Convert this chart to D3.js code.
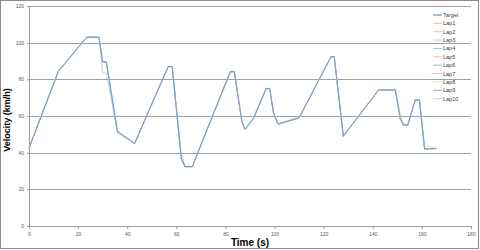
<!DOCTYPE html>
<html>
<head>
<meta charset="UTF-8">
<title>Velocity vs time</title>
<script src="https://d3js.org/d3.v7.min.js"></script>
<style>
  body { margin: 0; background: #fff; }
  svg { font-family: Arial, "Liberation Sans", sans-serif; }
  .tick text { font-size: 5px; fill: #595959; }
  .grid line { stroke: #a0a0a0; stroke-width: 1; shape-rendering: crispEdges; }
  .legend text { font-size: 5.5px; fill: #404040; }
</style>
</head>
<body>
<script>
// shared time points (s)
var time = [0, 12, 23.5, 28.5, 30, 31.5, 36, 43, 56.7, 58.3, 62, 63.5, 66.5, 82, 83.6, 86.7, 88, 91.4, 96.6, 98,
            99.6, 101.4, 110, 123, 124.3, 128, 142.4, 149.2, 151.2, 152.5, 154.2, 157.3, 159, 161.1, 166];

// velocities (km/h)
var target = [42.5, 84.5, 103, 103, 89.5, 89.5, 51.5, 45, 87, 87, 37, 32.4, 32.4, 84.2, 84.2, 57, 52.7, 58.7, 75, 75,
              61.5, 55.6, 59, 92.4, 92.4, 49, 74.2, 74.2, 58.7, 55, 55, 68.7, 68.7, 42, 42.3];
var lap1  = [42.5, 84.5, 103, 103, 89.3, 89.5, 51, 45, 87, 87, 36, 32.4, 32.4, 84, 84.2, 56, 52.5, 58.5, 75, 75,
             61, 55.6, 59, 92.4, 92.4, 49, 74.2, 74.2, 57, 55, 55, 68.7, 68.7, 42, 42];
var lap2  = [42.5, 84, 103, 103, 89.5, 89.5, 52, 45.3, 86.5, 87, 38, 32.4, 32.4, 83.5, 84.2, 57.5, 53.2, 58.7, 74.5, 75,
             62, 56, 59.5, 92, 92.4, 49.5, 74, 74.2, 62, 56, 55, 68.2, 68.7, 44, 42.3];
var lap3  = [42.5, 84.8, 103, 103, 89, 89.5, 51.5, 45, 87, 87, 37.5, 32.4, 32.4, 84.5, 84.2, 56.5, 52.7, 59, 75, 75,
             61.5, 55.3, 58.8, 92.6, 92.4, 49, 74.5, 74.2, 58.2, 55, 55, 68.7, 68.7, 42, 42.3];
var lap4  = [42.5, 84.5, 103, 103, 89.5, 89.5, 51.8, 44.8, 87, 87, 40, 33, 32.4, 84.2, 84.2, 57.3, 53, 58.3, 75.3, 75,
             61.8, 55.6, 59, 92.4, 92.4, 48.7, 74.2, 74.2, 59.3, 55.5, 55, 69, 68.7, 42, 42.3];
var lap5  = [42.5, 84.2, 103, 103, 89.5, 89.5, 51.5, 45.2, 86.8, 87, 36.5, 32.4, 32.4, 83.8, 84.2, 56.8, 52.4, 58.7, 75, 75,
             61.2, 55.8, 59.2, 92.2, 92.4, 49.2, 74, 74.2, 58.7, 55, 55, 68.5, 68.7, 42.2, 42.3];
var lap6  = [42.5, 84.5, 103, 103, 83.5, 83.5, 51, 45, 87.2, 87, 37.2, 32.4, 32.4, 84.2, 84.2, 57, 52.7, 58.9, 75, 75,
             61.5, 55.6, 59, 92.4, 92.4, 49, 74.2, 74.2, 58.5, 55, 55, 68.7, 68.7, 42, 42.3];
var lap7  = [42.5, 84.6, 103, 103, 89.3, 89.5, 51.7, 45, 87, 87, 37, 32.4, 32.4, 84.4, 84.2, 57.2, 52.9, 58.6, 74.8, 75,
             61.7, 55.5, 58.9, 92.5, 92.4, 49.1, 74.3, 74.2, 58.9, 55.1, 55, 68.9, 68.7, 42.1, 42.3];
var lap8  = [42.5, 84.4, 103, 103, 89.5, 89.5, 51.3, 45.1, 86.9, 87, 36.8, 32.4, 32.4, 84.1, 84.2, 56.9, 52.6, 58.8, 75.1, 75,
             61.4, 55.7, 59.1, 92.3, 92.4, 48.9, 74.1, 74.2, 58.6, 54.9, 55, 68.6, 68.7, 41.9, 42.3];
var lap9  = [42.5, 84.5, 103, 103, 89.6, 89.5, 51.6, 44.9, 87.1, 87, 37.1, 32.4, 32.4, 84.3, 84.2, 57.1, 52.8, 58.7, 75, 75,
             61.6, 55.6, 59, 92.4, 92.4, 49, 74.2, 74.2, 58.8, 55, 55, 68.8, 68.7, 42, 42.3];
var lap10 = [42.5, 84.5, 103, 103, 89.5, 89.5, 51.4, 45, 87, 87, 36.9, 32.4, 32.4, 84.2, 84.2, 57, 52.7, 58.7, 75, 75,
             61.5, 55.6, 59, 92.4, 92.4, 49, 74.2, 74.2, 58.7, 55, 55, 68.7, 68.7, 42, 42.3];

var seriesNames = ["Target", "Lap1", "Lap2", "Lap3", "Lap4", "Lap5", "Lap6", "Lap7", "Lap8", "Lap9", "Lap10"];
var seriesValues = [target, lap1, lap2, lap3, lap4, lap5, lap6, lap7, lap8, lap9, lap10];
var seriesColors = ["#4f81bd", "#e6b9b8", "#c3d69b", "#ccc1da", "#93cddd", "#fac090",
                    "#95b3d7", "#e6b9b8", "#d7e4bd", "#b3a2c7", "#b7dee8"];

var xTicks = [0, 20, 40, 60, 80, 100, 120, 140, 160, 180];
var yTicks = [0, 20, 40, 60, 80, 100, 120];

var W = 480, H = 250;
var margin = {top: 6, right: 9, bottom: 24, left: 29};

var svg = d3.select("body").append("svg")
    .attr("width", W)
    .attr("height", H);

// outer chart border
svg.append("rect")
    .attr("x", 0.5).attr("y", 0.5)
    .attr("width", W - 2).attr("height", H - 2)
    .attr("fill", "#fff")
    .attr("stroke", "#8c8c8c");

var x = d3.scaleLinear().domain([0, 180]).range([margin.left, W - margin.right]);
var y = d3.scaleLinear().domain([0, 120]).range([H - margin.bottom, margin.top]);

// horizontal gridlines
svg.append("g")
    .attr("class", "grid")
    .selectAll("line")
    .data(yTicks)
    .enter().append("line")
    .attr("x1", x(0))
    .attr("x2", x(180))
    .attr("y1", function (d) { return Math.round(y(d)) + 0.5; })
    .attr("y2", function (d) { return Math.round(y(d)) + 0.5; });

// y axis
var yAxis = svg.append("g")
    .attr("transform", "translate(" + x(0) + ",0)")
    .call(d3.axisLeft(y).tickValues(yTicks).tickSize(2).tickPadding(3));
yAxis.select(".domain").attr("stroke", "#a0a0a0");
yAxis.selectAll(".tick line").attr("stroke", "#a0a0a0");

// x axis
var xAxis = svg.append("g")
    .attr("transform", "translate(0," + y(0) + ")")
    .call(d3.axisBottom(x).tickValues(xTicks).tickSize(3).tickPadding(3));
xAxis.select(".domain").attr("stroke", "#a0a0a0");
xAxis.selectAll(".tick line").attr("stroke", "#a0a0a0");

// series lines: laps first, target drawn over them
var line = d3.line()
    .x(function (d, i) { return x(time[i]); })
    .y(function (d) { return y(d); });

var order = [1, 2, 3, 4, 5, 6, 7, 8, 9, 10, 0];
order.forEach(function (k) {
    svg.append("path")
        .datum(seriesValues[k])
        .attr("fill", "none")
        .attr("stroke", seriesColors[k])
        .attr("stroke-width", 0.9)
        .attr("stroke-opacity", k === 0 ? 0.7 : 0.6)
        .attr("stroke-linejoin", "round")
        .attr("d", line);
});

// legend
var legend = svg.append("g").attr("class", "legend");
seriesNames.forEach(function (name, i) {
    var ly = 15 + i * 8.37;
    legend.append("line")
        .attr("x1", 433).attr("x2", 442)
        .attr("y1", ly).attr("y2", ly)
        .attr("stroke", seriesColors[i])
        .attr("stroke-width", 1);
    legend.append("text")
        .attr("x", 443)
        .attr("y", ly)
        .attr("dy", "0.35em")
        .text(name);
});

// axis titles
svg.append("text")
    .attr("x", 250)
    .attr("y", 246)
    .attr("text-anchor", "middle")
    .style("font-size", "10px")
    .style("font-weight", "bold")
    .attr("fill", "#000")
    .text("Time (s)");

svg.append("text")
    .attr("transform", "translate(10,120) rotate(-90)")
    .attr("text-anchor", "middle")
    .style("font-size", "9px")
    .style("font-weight", "bold")
    .attr("fill", "#000")
    .text("Velocity (km/h)");
</script>
</body>
</html>
